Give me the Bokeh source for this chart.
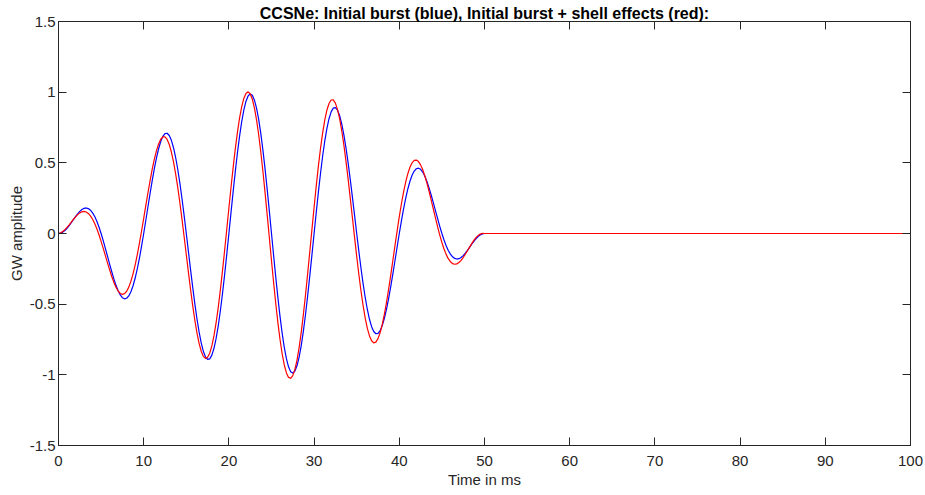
from bokeh.plotting import figure
from bokeh.models import LinearAxis, FixedTicker, Range1d
from bokeh.embed import file_html
from bokeh.resources import INLINE

# Values. Two sample sets per curve:
# on the 0.5 ms grid (0 .. 50 ms) and halfway between (0.25 .. 49.75 ms).
time_grid = [i * 0.5 for i in range(101)]
time_half = [0.25 + i * 0.5 for i in range(100)]
tail_time = [100.0]
tail_value = [0.0]

# Initial burst (blue)
burst_grid = [
    0.0, 0.0097, 0.0369, 0.0761, 0.1192, 0.1564, 0.1782, 0.1765, 0.1462, 0.0862,
    0.0, -0.1047, -0.2164, -0.3213, -0.4050, -0.4540, -0.4582, -0.4118, -0.3150, -0.1737,
    0.0, 0.1894, 0.3747, 0.5350, 0.6511, 0.7071, 0.6933, 0.6068, 0.4529, 0.2442,
    0.0, -0.2556, -0.4963, -0.6963, -0.8335, -0.8910, -0.8606, -0.7425, -0.5465, -0.2907,
    0.0, 0.2967, 0.5693, 0.7895, 0.9343, 0.9877, 0.9436, 0.8054, 0.5866, 0.3088,
    0.0, -0.3088, -0.5866, -0.8054, -0.9436, -0.9877, -0.9343, -0.7895, -0.5693, -0.2967,
    0.0, 0.2907, 0.5465, 0.7425, 0.8606, 0.8910, 0.8335, 0.6963, 0.4963, 0.2556,
    0.0, -0.2442, -0.4529, -0.6068, -0.6933, -0.7071, -0.6511, -0.5350, -0.3747, -0.1894,
    0.0, 0.1737, 0.3150, 0.4118, 0.4582, 0.4540, 0.4050, 0.3213, 0.2164, 0.1047,
    0.0, -0.0862, -0.1462, -0.1765, -0.1782, -0.1564, -0.1192, -0.0761, -0.0369, -0.0097,
    0.0,
]
burst_half = [
    0.0025, 0.0214, 0.0555, 0.0978, 0.1392, 0.1698, 0.1807, 0.1651, 0.1198, 0.0460,
    -0.0507, -0.1605, -0.2706, -0.3667, -0.4345, -0.4622, -0.4415, -0.3695, -0.2493, -0.0900,
    0.0939, 0.2839, 0.4592, 0.5997, 0.6873, 0.7093, 0.6590, 0.5377, 0.3543, 0.1251,
    -0.1280, -0.3794, -0.6029, -0.7740, -0.8729, -0.8870, -0.8121, -0.6533, -0.4247, -0.1480,
    0.1495, 0.4379, 0.6876, 0.8725, 0.9730, 0.9778, 0.8856, 0.7049, 0.4535, 0.1564,
    -0.1564, -0.4535, -0.7049, -0.8856, -0.9778, -0.9730, -0.8725, -0.6876, -0.4379, -0.1495,
    0.1480, 0.4247, 0.6533, 0.8121, 0.8870, 0.8729, 0.7740, 0.6029, 0.3794, 0.1280,
    -0.1251, -0.3543, -0.5377, -0.6590, -0.7093, -0.6873, -0.5997, -0.4592, -0.2839, -0.0939,
    0.0900, 0.2493, 0.3695, 0.4415, 0.4622, 0.4345, 0.3667, 0.2706, 0.1605, 0.0507,
    -0.0460, -0.1198, -0.1651, -0.1807, -0.1698, -0.1392, -0.0978, -0.0555, -0.0214, -0.0025,
]

# Initial burst + shell effects (red)
shell_grid = [
    0.0, 0.0143, 0.0432, 0.0805, 0.1178, 0.1458, 0.1561, 0.1422, 0.1010, 0.0334,
    -0.0554, -0.1565, -0.2579, -0.3460, -0.4074, -0.4309, -0.4087, -0.3379, -0.2216, -0.0686,
    0.1074, 0.2884, 0.4547, 0.5866, 0.6669, 0.6833, 0.6295, 0.5069, 0.3245, 0.0981,
    -0.1505, -0.3962, -0.6130, -0.7771, -0.8690, -0.8763, -0.7953, -0.6312, -0.3985, -0.1189,
    0.1800, 0.4681, 0.7156, 0.8965, 0.9911, 0.9884, 0.8872, 0.6967, 0.4351, 0.1285,
    -0.1925, -0.4956, -0.7501, -0.9303, -1.0182, -1.0054, -0.8935, -0.6946, -0.4295, -0.1256,
    0.1862, 0.4745, 0.7107, 0.8721, 0.9444, 0.9223, 0.8105, 0.6230, 0.3807, 0.1100,
    -0.1611, -0.4051, -0.5988, -0.7247, -0.7735, -0.7441, -0.6437, -0.4865, -0.2922, -0.0828,
    0.1190, 0.2929, 0.4232, 0.4999, 0.5195, 0.4855, 0.4069, 0.2970, 0.1715, 0.0465,
    -0.0636, -0.1477, -0.1996, -0.2177, -0.2053, -0.1700, -0.1217, -0.0715, -0.0297, -0.0044,
    0.0,
]
shell_half = [
    0.0050, 0.0272, 0.0613, 0.0997, 0.1335, 0.1536, 0.1524, 0.1251, 0.0703, -0.0088,
    -0.1052, -0.2080, -0.3044, -0.3808, -0.4245, -0.4258, -0.3793, -0.2851, -0.1489, 0.0176,
    0.1985, 0.3746, 0.5261, 0.6341, 0.6837, 0.6653, 0.5765, 0.4223, 0.2155, -0.0249,
    -0.2753, -0.5098, -0.7033, -0.8330, -0.8837, -0.8467, -0.7229, -0.5222, -0.2629, 0.0300,
    0.3273, 0.5986, 0.8158, 0.9555, 1.0022, 0.9498, 0.8022, 0.5733, 0.2856, -0.0322,
    -0.3483, -0.6307, -0.8508, -0.9866, -1.0245, -0.9613, -0.8038, -0.5688, -0.2805, 0.0313,
    0.3352, 0.6006, 0.8019, 0.9200, 0.9450, 0.8769, 0.7250, 0.5071, 0.2471, -0.0273,
    -0.2881, -0.5095, -0.6710, -0.7590, -0.7683, -0.7025, -0.5711, -0.3927, -0.1879, 0.0204,
    0.2105, 0.3643, 0.4686, 0.5168, 0.5088, 0.4510, 0.3549, 0.2351, 0.1080, -0.0112,
    -0.1094, -0.1779, -0.2127, -0.2149, -0.1900, -0.1468, -0.0961, -0.0490, -0.0146, 0.0005,
]

x_ticks = [0, 10, 20, 30, 40, 50, 60, 70, 80, 90, 100]
y_ticks = [-1.5, -1.0, -0.5, 0.0, 0.5, 1.0, 1.5]
y_tick_labels = ["-1.5", "-1", "-0.5", "0", "0.5", "1", "1.5"]

title_text = "CCSNe: Initial burst (blue), Initial burst + shell effects (red):"
x_label = "Time in ms"
y_label = "GW amplitude"


def merged(grid_vals, half_vals):
    pts = sorted(list(zip(time_grid, grid_vals)) + list(zip(time_half, half_vals))
                 + list(zip(tail_time, tail_value)))
    return [a for a, _ in pts], [b for _, b in pts]


FONT = "Liberation Sans"
AX = "#262626"

p = figure(width=925, height=495, output_backend="svg", toolbar_location=None,
           x_range=Range1d(0, 100), y_range=Range1d(-1.5, 1.5),
           min_border_left=58, min_border_right=15, min_border_top=21,
           min_border_bottom=50, title=title_text)

p.title.align = "center"
p.title.text_font = FONT
p.title.text_font_size = "16px"
p.title.text_font_style = "bold"
p.title.text_color = "#000000"
p.title.standoff = 0
p.title.offset = 0

p.background_fill_color = "white"
p.border_fill_color = "white"
p.outline_line_color = AX
p.outline_line_width = 1
p.xgrid.visible = False
p.ygrid.visible = False

bx, by = merged(burst_grid, burst_half)
sx, sy = merged(shell_grid, shell_half)
p.line(bx, by, line_color="#0000ff", line_width=1.2, line_join="round")
p.line(sx, sy, line_color="#ff0000", line_width=1.2, line_join="round")

overrides = {t: s for t, s in zip(y_ticks, y_tick_labels)}


def style(ax, ticks, show_labels):
    ax.ticker = FixedTicker(ticks=ticks)
    ax.minor_tick_line_color = None
    ax.major_tick_in = 8
    ax.major_tick_out = 0
    ax.major_tick_line_color = AX
    ax.axis_line_color = AX
    ax.major_label_text_font = FONT
    ax.major_label_text_font_size = "15px"
    ax.major_label_text_color = AX
    ax.axis_label_text_font = FONT
    ax.axis_label_text_font_size = "15px"
    ax.axis_label_text_font_style = "normal"
    ax.axis_label_text_color = AX
    if not show_labels:
        ax.major_label_text_color = None
        ax.major_label_text_alpha = 0
        ax.major_label_text_font_size = "0px"
        ax.major_label_standoff = 0


xa = p.xaxis[0]
style(xa, x_ticks, True)
xa.axis_label = x_label
xa.major_label_standoff = 10
xa.axis_label_standoff = 2

ya = p.yaxis[0]
style(ya, y_ticks, True)
ya.axis_label = y_label
ya.major_label_overrides = overrides
ya.major_label_standoff = 3
ya.axis_label_standoff = 2

top = LinearAxis()
style(top, x_ticks, False)
p.add_layout(top, "above")

right = LinearAxis()
style(right, y_ticks, False)
p.add_layout(right, "right")

open("out.html", "w").write(file_html(p, INLINE))
